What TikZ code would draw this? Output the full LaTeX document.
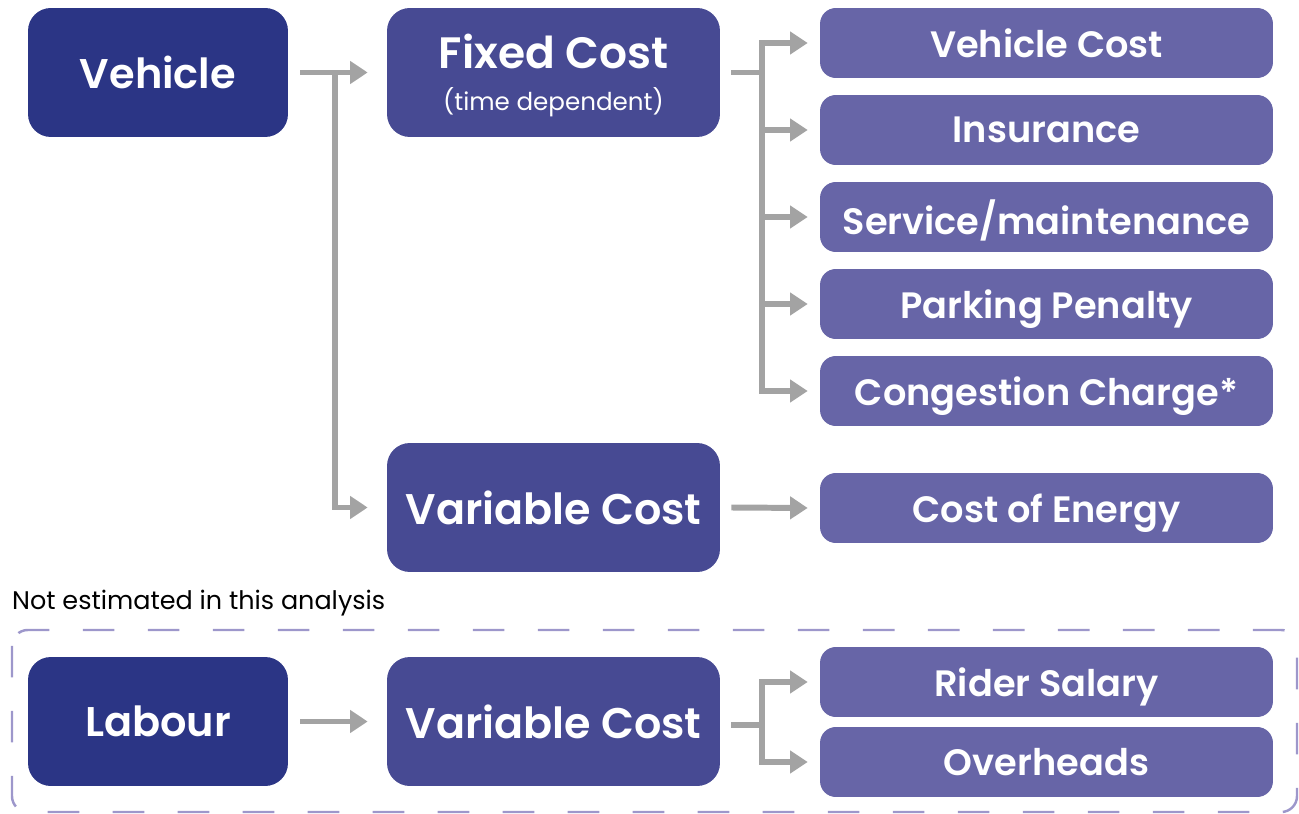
\documentclass[tikz,border=0pt]{standalone}
\usepackage{fontspec}
\setmainfont{Poppins}[BoldFont={Poppins SemiBold}]
\usetikzlibrary{arrows.meta}

\definecolor{navy}{HTML}{2B3585}
\definecolor{midblue}{HTML}{474A93}
\definecolor{lilac}{HTML}{6765A7}
\definecolor{linegray}{HTML}{A3A3A3}
\definecolor{dashlilac}{HTML}{9D97CB}

\tikzset{
  mainbox/.style={fill=navy, text=white, rounded corners=13pt, minimum width=5.2cm, minimum height=2.58cm,
    font=\fontsize{23.6}{28}\selectfont\bfseries, text depth=0pt},
  costbox/.style={fill=midblue, text=white, rounded corners=13pt, minimum width=6.66cm, minimum height=2.58cm,
    font=\fontsize{24.4}{29}\selectfont\bfseries, align=center, text depth=0pt},
  itembox/.style={fill=lilac, text=white, rounded corners=9pt, minimum width=9.06cm, minimum height=1.4cm,
    font=\fontsize{20.9}{25}\selectfont\bfseries, text depth=0pt},
  conn/.style={draw=linegray, line width=3.4pt, -{Triangle[width=12.5pt,length=10pt]}},
}

\begin{document}
\begin{tikzpicture}[x=0.02cm, y=-0.02cm]
\useasboundingbox (0,0) rectangle (1299,814);

% vehicle branch
\node[mainbox] (veh) at (158,72.5) {Vehicle};
\node[costbox, font=\fontsize{25}{30}\selectfont\bfseries] (fixed) at (553.5,72.5)
  {Fixed Cost\\[-6pt]{\fontsize{14}{16}\selectfont\mdseries (time dependent)}};
\node[costbox] (varcost) at (553.5,507.5) {Variable Cost};

\node[itembox] (vcost) at (1046.5,43) {Vehicle Cost};
\node[itembox] (ins) at (1046.5,130) {Insurance};
\node[itembox] (serv) at (1046.5,217) {Service/maintenance};
\node[itembox] (park) at (1046.5,304) {Parking Penalty};
\node[itembox] (cong) at (1046.5,391) {Congestion Charge*};
\node[itembox] (energy) at (1046.5,508) {Cost of Energy};

\coordinate (vsplit) at (335,72.5);
\coordinate (fsplit) at (762,72.5);

\draw[conn] ([shift={(12,0)}]veh.east) -- ([shift={(-19,0)}]fixed.west);
\draw[conn] (vsplit) |- ([shift={(-19,0)}]varcost.west);
\foreach \n in {vcost,ins,serv,park,cong}
  \draw[conn] ([shift={(11,0)}]fixed.east) -- (fsplit) |- ([shift={(-12,0)}]\n.west);
\draw[conn] ([shift={(11,0)}]varcost.east) -- ([shift={(-12,0)}]energy.west);

% labour branch
\node[anchor=west, font=\fontsize{14.5}{17}\selectfont] (note) at (6,603) {Not estimated in this analysis};
\draw[dashlilac, line width=1.4pt, dash pattern=on 18pt off 19pt, rounded corners=9pt] (12,630) rectangle (1297,812);

\node[mainbox] (lab) at (158,721.5) {Labour};
\node[costbox] (labvar) at (553.5,721.5) {Variable Cost};
\node[itembox] (rider) at (1046.5,682) {Rider Salary};
\node[itembox] (over) at (1046.5,762) {Overheads};

\coordinate (lsplit) at (762,725);

\draw[conn] ([shift={(12,0)}]lab.east) -- ([shift={(-19,0)}]labvar.west);
\foreach \n in {rider,over}
  \draw[conn] ([shift={(11,0)}]labvar.east |- lsplit) -- (lsplit) |- ([shift={(-12,0)}]\n.west);
\end{tikzpicture}
\end{document}
